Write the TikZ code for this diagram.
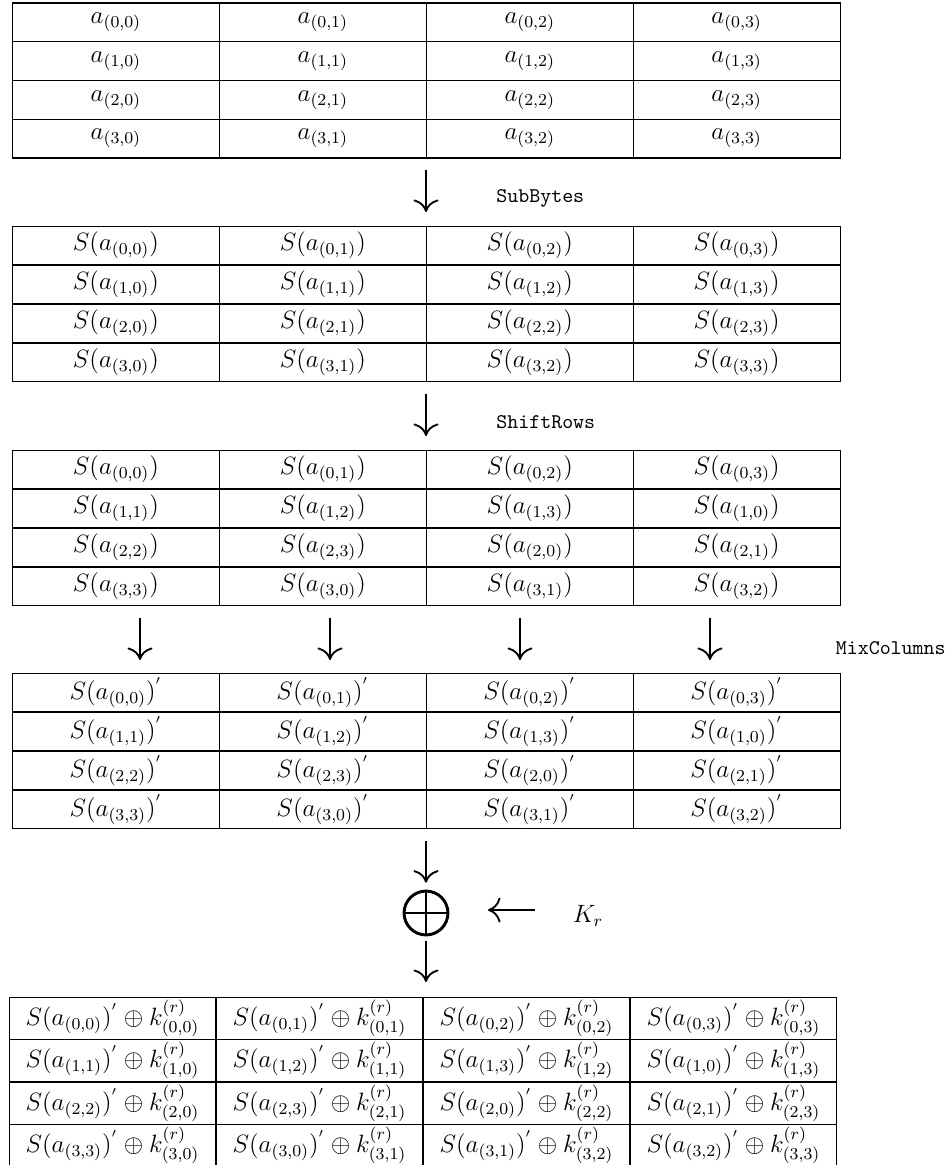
\documentclass[tikz,border=0pt]{standalone}
\usetikzlibrary{arrows.meta}
\begin{document}
\begin{tikzpicture}[x=0.4785pt, y=-0.4785pt,
  cell/.style={draw, line width=0.5pt, minimum width=99pt, minimum height=18.55pt,
    inner sep=0pt, font=\fontsize{12}{14}\selectfont},
  wcell/.style={cell, minimum height=20.1pt},
  arr/.style={line width=0.9pt, -{Computer Modern Rightarrow[width=12pt,length=6pt]}},
  op/.style={font=\ttfamily, anchor=west, inner sep=0pt},
  xorsym/.style={circle, draw, line width=1.4pt, minimum size=21pt, inner sep=0pt}]
\useasboundingbox (0,0) rectangle (947,1165);

% state tables: input, SubBytes, ShiftRows, MixColumns, AddRoundKey
\foreach \i in {0,...,3}{
  \foreach \j in {0,...,3}{
    \pgfmathtruncatemacro{\s}{mod(\i+\j,4)}
    \node[cell] (a-\i-\j) at ({12.5+206.9*(\j+0.5)}, {3+38.75*(\i+0.5)}) {$a_{(\i,\j)}$};
    \node[cell] (b-\i-\j) at ({12.5+206.9*(\j+0.5)}, {226+39*(\i+0.5)}) {$S(a_{(\i,\j)})$};
    \node[cell] (c-\i-\j) at ({12.5+206.9*(\j+0.5)}, {450+39*(\i+0.5)}) {$S(a_{(\i,\s)})$};
    \node[cell] (d-\i-\j) at ({12.5+206.9*(\j+0.5)}, {673+39*(\i+0.5)}) {$S(a_{(\i,\s)})^{'}$};
    \node[wcell] (e-\i-\j) at ({9+207*(\j+0.5)}, {997+42.5*(\i+0.5)}) {$S(a_{(\i,\s)})^{'}\oplus k^{(r)}_{(\i,\j)}$};
  }
}

% SubBytes
\coordinate (sb-top) at (426,170);
\coordinate (sb-bot) at (426,212);
\draw[arr] (sb-top) -- (sb-bot);
\node[op] (sb) at (496,198) {SubBytes};

% ShiftRows
\coordinate (sr-top) at (426,394);
\coordinate (sr-bot) at (426,436);
\draw[arr] (sr-top) -- (sr-bot);
\node[op] (sr) at (496,422) {ShiftRows};

% MixColumns, one arrow per column
\foreach \k/\x in {0/140,1/330,2/520,3/710}{
  \coordinate (mc-top-\k) at (\x,618);
  \coordinate (mc-bot-\k) at (\x,660);
  \draw[arr] (mc-top-\k) -- (mc-bot-\k);
}
\node[op, anchor=east] (mc) at (946,648) {MixColumns};

% AddRoundKey
\node[xorsym] (xor) at (426,913) {};
\draw[line width=1.4pt] (xor.north) -- (xor.south) (xor.west) -- (xor.east);
\coordinate (ak-top) at (426,841);
\draw[arr, shorten >=3.3pt] (ak-top) -- (xor.north);
\node[font=\fontsize{12}{14}\selectfont, inner sep=0pt] (key) at (588,916) {$K_r$};
\coordinate (key-tail) at (535,910);
\coordinate (key-tip) at (488,910);
\draw[arr] (key-tail) -- (key-tip);
\coordinate (ak-bot) at (426,982);
\draw[arr, shorten <=2pt] (xor.south) -- (ak-bot);
\end{tikzpicture}
\end{document}
